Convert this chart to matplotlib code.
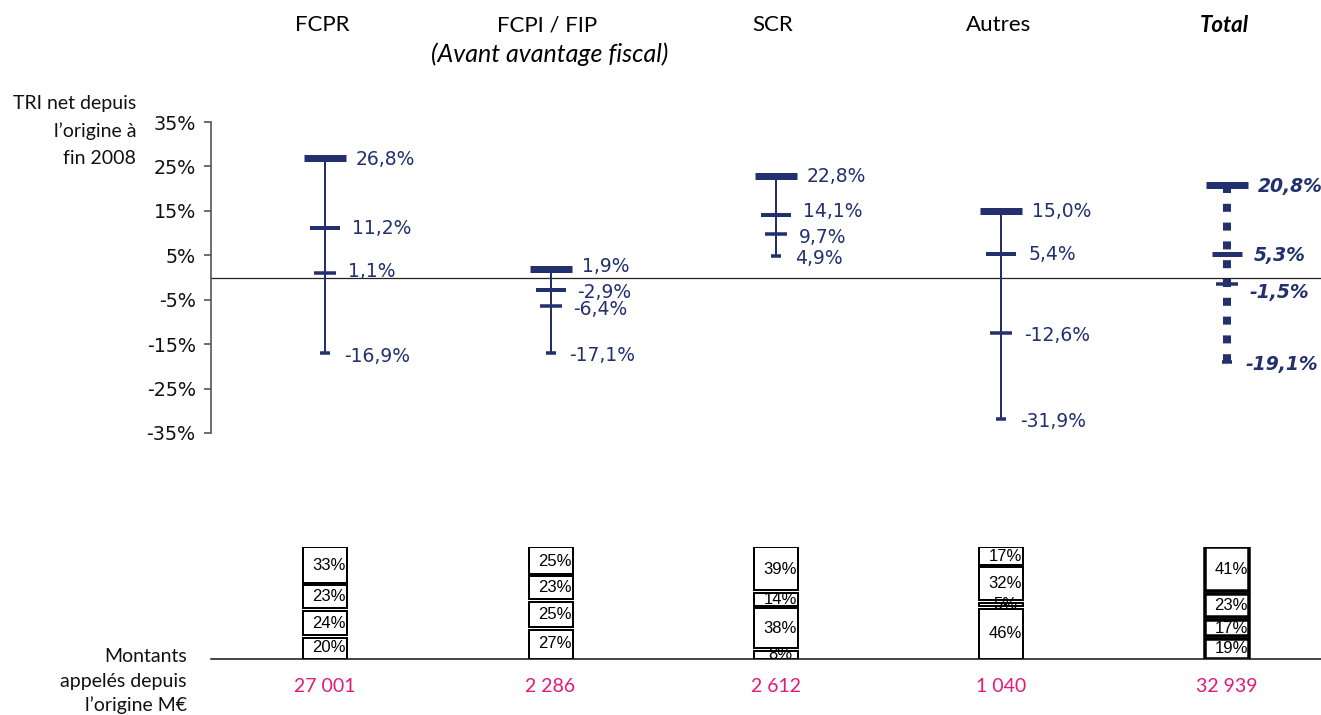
import matplotlib
matplotlib.use("Agg")
import matplotlib.pyplot as plt

# ---------------- data ----------------
categories = ["FCPR", "FCPI / FIP", "SCR", "Autres", "Total"]
subtitle_fcpi = "(Avant avantage fiscal)"
tri_level1 = [26.8, 1.9, 22.8, 15.0, 20.8]      # top mark
tri_level2 = [11.2, -2.9, 14.1, 5.4, 5.3]
tri_level3 = [1.1, -6.4, 9.7, -12.6, -1.5]
tri_level4 = [-16.9, -17.1, 4.9, -31.9, -19.1]  # bottom mark
y_ticks = [-35, -25, -15, -5, 5, 15, 25, 35]

share_seg1 = [20, 27, 8, 46, 19]   # bottom segment
share_seg2 = [24, 25, 38, 5, 17]
share_seg3 = [23, 23, 14, 32, 23]
share_seg4 = [33, 25, 39, 17, 41]  # top segment
amounts = ["27 001", "2 286", "2 612", "1 040", "32 939"]

left_title_top = ["TRI net depuis", "l\u2019origine à", "fin 2008"]
left_title_bottom = ["Montants", "appelés depuis", "l\u2019origine M\u20ac"]

# ---------------- style ----------------
W, H = 1321, 715
NAVY = "#23306E"
PINK = "#E5187A"
PT = 0.72  # points per pixel at dpi 100

fig = plt.figure(figsize=(W / 100, H / 100), dpi=100)
fig.patch.set_facecolor("white")


def fx(x):
    return x / W


def fy(y):
    return 1 - y / H


x0_px, step_px = 325.0, 225.5
ax_left, ax_right = 211, W
xlim = ((ax_left - x0_px) / step_px, (ax_right - x0_px) / step_px)
xs = list(range(len(categories)))

# ---------------- upper chart ----------------
top_px, bot_px = 122, 433
ax1 = fig.add_axes([fx(ax_left), fy(bot_px), fx(ax_right - ax_left), (bot_px - top_px) / H])
ax1.set_xlim(*xlim)
ax1.set_ylim(-35, 35)
for s in ["top", "right", "bottom"]:
    ax1.spines[s].set_visible(False)
ax1.spines["left"].set_color("#555555")
ax1.spines["left"].set_linewidth(1.2)
ax1.set_xticks([])
ax1.set_yticks(y_ticks)
ax1.set_yticklabels([f"{t}%" for t in y_ticks], fontsize=13.8, family="DejaVu Sans", color="#111111")
ax1.tick_params(axis="y", direction="out", length=5, width=1.2, color="#555555", pad=6)
ax1.patch.set_alpha(0)
ax1.axhline(0, color="#222222", lw=0.9, zorder=1)

levels = [tri_level1, tri_level2, tri_level3, tri_level4]
mark_len_px = [42, 30, 22, 10]
mark_th_px = [7, 4, 3.5, 3.5]
label_dx_px = [31, 27, 23, 19]
label_dy_px = [
    [1, 1, -1.5, 3.5],
    [-3, 2.5, 4, 2.5],
    [0, -3, 3.5, 2.5],
    [1, 1, 2.5, 2],
    [1, 2, 8, 2],
]

for i, x in enumerate(xs):
    total = (i == len(xs) - 1)
    top_v = tri_level1[i]
    low_v = tri_level4[i]
    if total:
        ax1.plot([x, x], [top_v, low_v], color=NAVY, lw=8 * PT,
                 dashes=(1.0, 1.35), solid_capstyle="butt", dash_capstyle="butt", zorder=2)
    else:
        ax1.plot([x, x], [top_v, low_v], color=NAVY, lw=2 * PT, zorder=2)
    for k, lv in enumerate(levels):
        v = lv[i]
        th = mark_th_px[k] + (1 if (total and k == 1) else 0)
        ax1.plot([x], [v], marker="_", markersize=mark_len_px[k] * PT,
                 markeredgewidth=th * PT, color=NAVY, zorder=3, linestyle="none")
        txt = f"{v:.1f}".replace(".", ",") + "%"
        ax1.annotate(txt, (x, v), xytext=(label_dx_px[k] * PT, -label_dy_px[i][k] * PT),
                     textcoords="offset points", ha="left", va="center",
                     fontsize=13.5, color=NAVY, family="DejaVu Sans",
                     fontweight="bold" if total else "normal",
                     fontstyle="italic" if total else "normal")

# ---------------- lower chart ----------------
btop_px, bbase_px = 547, 659
ax2 = fig.add_axes([fx(ax_left), fy(bbase_px), fx(ax_right - ax_left), (bbase_px - btop_px) / H])
ax2.set_xlim(*xlim)
ax2.set_ylim(0, 100)
for s in ["top", "right", "left"]:
    ax2.spines[s].set_visible(False)
ax2.spines["bottom"].set_color("#111111")
ax2.spines["bottom"].set_linewidth(1.1)
ax2.set_xticks([])
ax2.set_yticks([])
ax2.patch.set_alpha(0)

segs = [share_seg1, share_seg2, share_seg3, share_seg4]
gap = 2.6
bar_w = 44 / step_px
for i, x in enumerate(xs):
    total = (i == len(xs) - 1)
    cum = 0
    vals = [s[i] for s in segs]
    scale = 100.0 / sum(vals)
    for j, v in enumerate(vals):
        h = v * scale
        b = cum + (gap / 2 if j > 0 else 0)
        t = cum + h - (gap / 2 if j < len(vals) - 1 else 0)
        ax2.bar(x, t - b, bottom=b, width=bar_w, facecolor="white",
                edgecolor="black", linewidth=(3.5 if total else 2) * PT, zorder=2)
        ax2.annotate(f"{v}%", (x, cum + h / 2), xytext=(4 * PT, 0), textcoords="offset points",
                     ha="center", va="center", fontsize=12, family="Liberation Sans",
                     color="black", zorder=4)
        cum += h
    ax2.annotate(amounts[i], (x, 0), xytext=(0, -28 * PT), textcoords="offset points",
                 ha="center", va="center", fontsize=14, family="Lato", color=PINK,
                 annotation_clip=False)

# ---------------- headers & side titles ----------------
head_y = 25
for i, x in enumerate(xs):
    xpx = x0_px + step_px * x - 3
    total = (i == len(xs) - 1)
    fig.text(fx(xpx), fy(head_y), categories[i], ha="center", va="center",
             fontsize=16, family="Lato", color="black",
             fontweight="bold" if total else "normal",
             fontstyle="italic" if total else "normal")
fig.text(fx(x0_px + step_px - 1), fy(54), subtitle_fcpi, ha="center", va="center",
         fontsize=18, family="Lato", fontstyle="italic", color="black")

for k, line in enumerate(left_title_top):
    fig.text(fx(136), fy(104 + 27 * k), line, ha="right", va="center",
             fontsize=14, family="Lato", color="#111111")
for k, line in enumerate(left_title_bottom):
    fig.text(fx(187), fy(657 + 24 * k), line, ha="right", va="center",
             fontsize=14, family="Lato", color="#111111")

fig.savefig("out.png", dpi=100, facecolor="white")
